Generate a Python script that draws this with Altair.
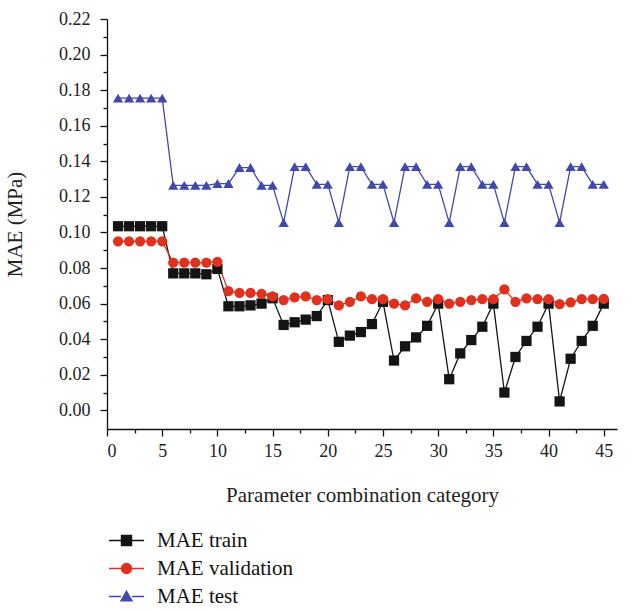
import altair as alt
import pandas as pd

categories = list(range(1, 46))

mae_train = [0.1035, 0.1035, 0.1035, 0.1035, 0.1035,
             0.0770, 0.0770, 0.0770, 0.0765, 0.0795,
             0.0585, 0.0585, 0.0590, 0.0600, 0.0630,
             0.0480, 0.0495, 0.0510, 0.0530, 0.0620,
             0.0385, 0.0420, 0.0440, 0.0485, 0.0610,
             0.0280, 0.0360, 0.0410, 0.0475, 0.0600,
             0.0175, 0.0320, 0.0395, 0.0470, 0.0600,
             0.0100, 0.0300, 0.0390, 0.0470, 0.0600,
             0.0050, 0.0290, 0.0390, 0.0475, 0.0600]

mae_validation = [0.0950, 0.0950, 0.0950, 0.0950, 0.0950,
                  0.0830, 0.0830, 0.0830, 0.0830, 0.0835,
                  0.0670, 0.0660, 0.0660, 0.0655, 0.0640,
                  0.0620, 0.0635, 0.0640, 0.0620, 0.0625,
                  0.0590, 0.0610, 0.0640, 0.0625, 0.0625,
                  0.0600, 0.0590, 0.0630, 0.0610, 0.0625,
                  0.0600, 0.0610, 0.0620, 0.0625, 0.0625,
                  0.0680, 0.0610, 0.0630, 0.0625, 0.0625,
                  0.0597, 0.0607, 0.0625, 0.0625, 0.0627]

mae_test = [0.1755, 0.1755, 0.1755, 0.1755, 0.1755,
            0.1265, 0.1265, 0.1265, 0.1265, 0.1275,
            0.1275, 0.1365, 0.1365, 0.1265, 0.1265,
            0.1055, 0.1370, 0.1370, 0.1270, 0.1270,
            0.1055, 0.1370, 0.1370, 0.1270, 0.1270,
            0.1055, 0.1370, 0.1370, 0.1270, 0.1270,
            0.1055, 0.1370, 0.1370, 0.1270, 0.1270,
            0.1055, 0.1370, 0.1370, 0.1270, 0.1270,
            0.1055, 0.1370, 0.1370, 0.1270, 0.1270]

series_names = ["MAE train", "MAE validation", "MAE test"]
series_colors = ["#141414", "#e0301e", "#4249ab"]
series_shapes = ["square", "circle", "triangle-up"]
# legend glyphs: a short line through each marker
legend_shapes = ["M-3.5,0H-1M1,0H3.5M-1,-1H1V1H-1Z",
                 "M-3.5,0H-1M1,0H3.5M-1,0A1,1 0 1,0 1,0A1,1 0 1,0 -1,0Z",
                 "M-3.5,0H-1.1M1.1,0H3.5M0,-1.05L1.1,0.85H-1.1Z"]

rows = []
for name, vals in zip(series_names, [mae_train, mae_validation, mae_test]):
    for c, v in zip(categories, vals):
        rows.append({"category": c, "mae": v, "series": name})
df = pd.DataFrame(rows)

x_ticks = [i * 2.5 for i in range(19)]
y_ticks = [round(i * 0.01, 2) for i in range(23)]

serif = "'Liberation Serif', 'Times New Roman', 'DejaVu Serif', serif"

x_enc = alt.X("category:Q",
              scale=alt.Scale(domain=[0, 46.2], nice=False, zero=False),
              axis=alt.Axis(title="Parameter combination category", values=x_ticks, format="d",
                            labelExpr="datum.value % 5 == 0 ? datum.label : ''",
                            tickSize={"condition": {"test": "datum.value % 5 == 0", "value": 7}, "value": 4},
                            labelPadding=6, titlePadding=24, labelOverlap=False))
y_enc = alt.Y("mae:Q",
              scale=alt.Scale(domain=[-0.0105, 0.22], nice=False, zero=False),
              axis=alt.Axis(title="MAE (MPa)", values=y_ticks, format=".2f",
                            labelExpr="round(datum.value * 100) % 2 == 0 ? datum.label : ''",
                            tickSize={"condition": {"test": "round(datum.value * 100) % 2 == 0", "value": 7}, "value": 4},
                            labelPadding=10, titlePadding=33, labelOverlap=False))

color_scale = alt.Scale(domain=series_names, range=series_colors)
shape_scale = alt.Scale(domain=series_names, range=series_shapes)
legend_shape_scale = alt.Scale(domain=series_names, range=legend_shapes)

legend = alt.Legend(
    orient="none", legendX=9, legendY=511, title=None,
    labelFont=serif, labelFontSize=21, labelColor="#111",
    symbolSize=100, symbolStrokeWidth=1.4, symbolOpacity=1, labelOffset=20,
    rowPadding=6, padding=0,
)

base = alt.Chart(df)

lines = base.mark_line(strokeWidth=1.3).encode(
    x=x_enc, y=y_enc,
    color=alt.Color("series:N", scale=color_scale, legend=None),
    detail="series:N",
)

points = base.mark_point(filled=True, opacity=1, strokeWidth=0).encode(
    x=x_enc, y=y_enc,
    color=alt.Color("series:N", scale=color_scale, legend=None),
    shape=alt.Shape("series:N", scale=shape_scale, legend=None),
    size=alt.value(105),
)

legend_layer = base.transform_filter("datum.category > 1000").mark_point(
    filled=True, opacity=1, strokeWidth=1.4
).encode(
    x=x_enc, y=y_enc,
    color=alt.Color("series:N", scale=color_scale, legend=legend),
    stroke=alt.Stroke("series:N", scale=color_scale, legend=legend),
    shape=alt.Shape("series:N", scale=legend_shape_scale, legend=legend),
)

chart = alt.layer(lines, points, legend_layer).resolve_scale(
    color="independent", shape="independent", stroke="independent"
).properties(
    width=510, height=410,
    autosize=alt.AutoSizeParams(type="none"),
    padding={"left": 107, "top": 19, "right": 21, "bottom": 181},
).configure_view(stroke=None).configure_axis(
    grid=False, domainColor="#111", domainWidth=1.3, tickColor="#111", tickWidth=1.3,
    labelFont=serif, labelFontSize=18, labelColor="#222",
    titleFont=serif, titleFontSize=21, titleFontWeight="normal", titleColor="#222",
)

chart.save("out.html", embed_options={"renderer": "svg", "actions": False})
